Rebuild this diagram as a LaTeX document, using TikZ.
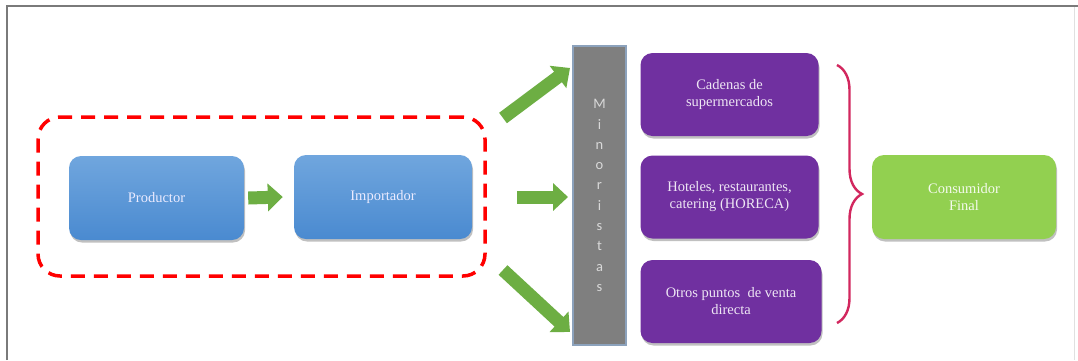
\documentclass[tikz,border=0pt]{standalone}
\usepackage{fontspec}
\setmainfont{Liberation Serif}
\newfontfamily\barfont{Carlito}
\usetikzlibrary{shadows,arrows.meta,decorations.pathreplacing}
\definecolor{bluetop}{HTML}{70A6DE}
\definecolor{bluebot}{HTML}{4A8AD0}
\definecolor{purp}{HTML}{7030A0}
\definecolor{lgreen}{HTML}{92D050}
\definecolor{agreen}{HTML}{6DAE43}
\definecolor{barfill}{HTML}{7F7F7F}
\definecolor{barline}{HTML}{8CA2BC}
\definecolor{bracecol}{HTML}{D2275E}
\definecolor{framecol}{HTML}{7A7A7A}
\tikzset{
  box/.style={rounded corners=12pt, draw=none, align=center,
    font=\fontsize{14.5}{17}\selectfont,
    drop shadow={shadow xshift=1pt, shadow yshift=-2.5pt, opacity=0.35, fill=black!70}},
  bluebox/.style={box, top color=bluetop, bottom color=bluebot, text=white!92!blue,
    minimum height=84pt},
  purpbox/.style={box, fill=purp, text=white!88!purp, minimum width=178pt, minimum height=83pt},
  greenbox/.style={box, fill=lgreen, text=white!90!lgreen, minimum width=184pt, minimum height=84pt},
  garrow/.style={draw=agreen, line width=13pt,
    -{Triangle[width=27pt,length=15pt]}},
  grp/.style={draw=red, line width=3.5pt, dash pattern=on 14pt off 9pt,
    rounded corners=22pt}
}
\begin{document}
\begin{tikzpicture}[x=1pt,y=-1pt]
\useasboundingbox (0,0) rectangle (1078,360);
\fill[white] (0,0) rectangle (1078,360);
% outer frame
\draw[framecol, line width=1.5pt] (7,360) -- (7,6) -- (1078,6);
\draw[black!12, line width=1pt] (1074,7) -- (1074,360);

% group
\node[grp, minimum width=447pt, minimum height=159pt] (grp) at (261.5,196.5) {};

% blue boxes
\node[bluebox, minimum width=175pt] (prod) at (156.5,198) {Productor};
\node[bluebox, minimum width=178pt] (imp) at (383,197) {Importador};

% retail bar
\node[draw=barline, fill=barfill, line width=1.2pt, minimum width=53pt, minimum height=299pt,
  text=black!15, align=center, inner sep=0pt,
  font=\barfont\fontsize{14.5}{20.3}\selectfont] (min) at (599.5,195.5)
  {M\\i\\n\\o\\r\\i\\s\\t\\a\\s};

% purple boxes
\node[purpbox] (p1) at (729.5,94.5) {Cadenas de\\supermercados};
\node[purpbox] (p2) at (729.5,197) {Hoteles, restaurantes,\\catering (HORECA)};
\node[purpbox, minimum width=181pt] (p3) at (731,301.5) {Otros puntos\ \ de venta\\directa};

% consumer
\node[greenbox] (cons) at (964,197) {Consumidor\\Final};

% arrows
\draw[garrow] ([xshift=4pt]prod.east) -- ([xshift=-11pt]imp.west);

\coordinate (t1) at (503,118);
\coordinate (h1) at (570,68);
\coordinate (t2) at (517,197);
\coordinate (h2) at (568,197);
\coordinate (t3) at (503,270);
\coordinate (h3) at (570,332);
\draw[garrow] (t1) -- (h1);
\draw[garrow] (t2) -- (h2);
\draw[garrow] (t3) -- (h3);

% brace
\coordinate (bt) at (837,65);
\coordinate (bb) at (837,323);
\draw[bracecol, line width=2.4pt, decorate,
  decoration={brace, amplitude=25pt}] (bt) -- (bb);
\end{tikzpicture}
\end{document}
